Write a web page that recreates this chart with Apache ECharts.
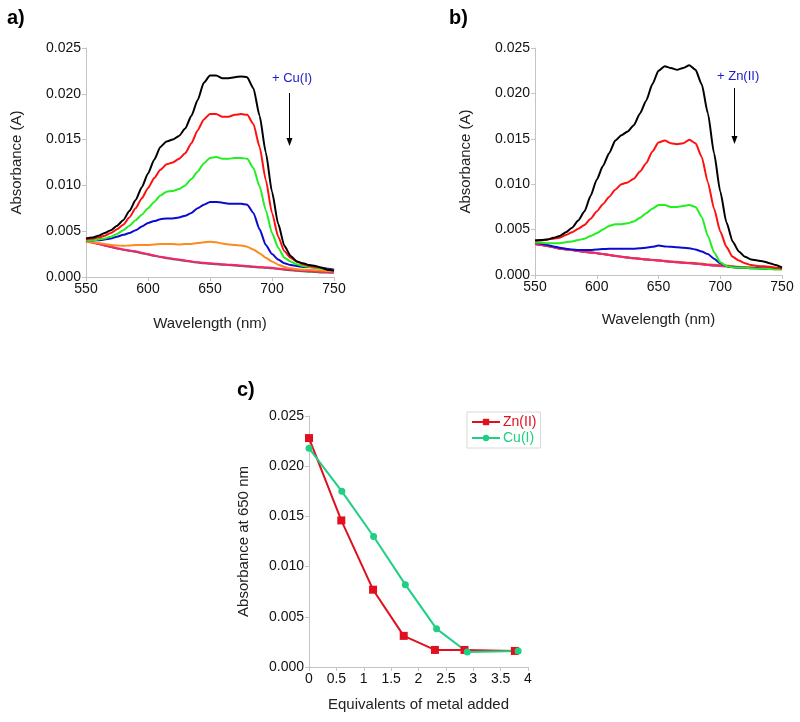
<!DOCTYPE html>
<html>
<head>
<meta charset="utf-8">
<script src="https://cdn.jsdelivr.net/npm/echarts@6/dist/echarts.min.js"></script>
<style>
html,body{margin:0;padding:0;background:#fff;}
#chart{width:800px;height:722px;}
</style>
</head>
<body>
<div id="chart"></div>
<script>
// ---------- DATA ----------
const wavelengths = [550,555,560,565,570,575,580,585,590,595,600,605,610,615,620,625,630,635,640,645,650,655,660,665,670,675,680,685,690,695,700,705,710,715,720,725,730,735,740,745,750];
const xTicksSpectra = [550,600,650,700,750];

// Panel a (+ Cu(I)) absorbance
const aBlack  = [0.0042,0.0043,0.0045,0.0048,0.0051,0.0056,0.0062,0.0072,0.0084,0.0098,0.0113,0.0128,0.0142,0.0148,0.0150,0.0154,0.0162,0.0176,0.0193,0.0212,0.0220,0.0220,0.0217,0.0217,0.0218,0.0219,0.0218,0.0206,0.0176,0.0136,0.0093,0.0058,0.0034,0.0023,0.0017,0.0015,0.0013,0.0012,0.0010,0.0008,0.0007];
const aRed    = [0.0041,0.0042,0.0043,0.0045,0.0048,0.0052,0.0057,0.0065,0.0075,0.0086,0.0097,0.0108,0.0117,0.0123,0.0125,0.0129,0.0135,0.0146,0.0160,0.0172,0.0178,0.0178,0.0175,0.0175,0.0177,0.0178,0.0177,0.0167,0.0142,0.0106,0.0070,0.0044,0.0028,0.0021,0.0017,0.0014,0.0012,0.0011,0.0010,0.0008,0.0007];
const aGreen  = [0.0040,0.0040,0.0041,0.0042,0.0044,0.0047,0.0051,0.0056,0.0062,0.0068,0.0075,0.0082,0.0089,0.0093,0.0094,0.0096,0.0100,0.0107,0.0115,0.0124,0.0130,0.0131,0.0129,0.0129,0.0130,0.0130,0.0129,0.0119,0.0099,0.0073,0.0048,0.0032,0.0021,0.0017,0.0014,0.0012,0.0011,0.0010,0.0009,0.0008,0.0007];
const aBlue   = [0.0040,0.0040,0.0040,0.0041,0.0042,0.0044,0.0046,0.0048,0.0051,0.0055,0.0059,0.0061,0.0063,0.0064,0.0064,0.0065,0.0067,0.0070,0.0075,0.0079,0.0082,0.0082,0.0081,0.0080,0.0080,0.0080,0.0079,0.0070,0.0052,0.0035,0.0025,0.0019,0.0015,0.0013,0.0012,0.0011,0.0011,0.0010,0.0010,0.0009,0.0008];
const aOrange = [0.0039,0.0038,0.0037,0.0036,0.0035,0.00345,0.0034,0.00345,0.0035,0.0035,0.0035,0.00355,0.0036,0.0036,0.0036,0.00355,0.0036,0.0036,0.0037,0.0038,0.00385,0.0038,0.00365,0.00355,0.0035,0.00345,0.0033,0.0030,0.0026,0.0021,0.0017,0.00135,0.0011,0.00095,0.00085,0.0008,0.0008,0.00075,0.0007,0.00065,0.0006];
const aDkGreen= [0.00395,0.0038,0.00362,0.00345,0.00328,0.00312,0.00298,0.00286,0.00275,0.0026,0.00245,0.00232,0.00218,0.00206,0.00195,0.00185,0.00176,0.00166,0.00157,0.0015,0.00145,0.0014,0.00135,0.0013,0.00125,0.0012,0.00115,0.0011,0.00105,0.0010,0.00095,0.00088,0.0008,0.00074,0.00068,0.00063,0.00058,0.00054,0.0005,0.00048,0.00046];
const aPink   = [0.0039,0.00375,0.0036,0.00345,0.0033,0.00315,0.0030,0.0029,0.0028,0.00265,0.0025,0.00235,0.0022,0.0021,0.0020,0.0019,0.0018,0.0017,0.0016,0.00155,0.0015,0.00145,0.0014,0.00135,0.0013,0.00125,0.0012,0.00115,0.0011,0.00105,0.0010,0.00092,0.00085,0.0008,0.00075,0.0007,0.00065,0.0006,0.00055,0.00052,0.0005];

// Panel b (+ Zn(II)) absorbance
const bBlack  = [0.0038,0.00385,0.0039,0.0041,0.0043,0.0047,0.0052,0.0060,0.0070,0.0087,0.0105,0.0120,0.0134,0.0148,0.0154,0.0158,0.0165,0.0178,0.0192,0.0210,0.0225,0.0230,0.0228,0.0226,0.0228,0.0231,0.0226,0.0210,0.0178,0.0134,0.0092,0.0058,0.0037,0.0026,0.0020,0.0017,0.0016,0.0015,0.0013,0.0011,0.0008];
const bRed    = [0.0038,0.0038,0.0039,0.0040,0.0041,0.0044,0.0047,0.0051,0.0055,0.0062,0.0070,0.0078,0.0086,0.0094,0.0100,0.0102,0.0106,0.0114,0.0123,0.0136,0.0146,0.0148,0.0145,0.0144,0.0145,0.0149,0.0145,0.0130,0.0102,0.0073,0.0048,0.0031,0.0020,0.0016,0.0013,0.0011,0.0010,0.00095,0.0009,0.0008,0.0007];
const bGreen  = [0.0036,0.00355,0.0035,0.0035,0.0035,0.0036,0.0037,0.00385,0.0040,0.0043,0.0046,0.0050,0.0054,0.0056,0.0056,0.0057,0.0059,0.0063,0.0068,0.0073,0.0077,0.0077,0.0075,0.0075,0.0076,0.0077,0.0075,0.0064,0.0043,0.0025,0.0014,0.0010,0.00085,0.0008,0.0008,0.00075,0.0007,0.0007,0.00065,0.0006,0.0006];
const bBlue   = [0.0036,0.00345,0.0033,0.00315,0.0030,0.0029,0.0028,0.00275,0.00275,0.00275,0.0028,0.00285,0.0029,0.0029,0.0029,0.0029,0.0029,0.00295,0.0030,0.0031,0.00325,0.00315,0.0031,0.00305,0.0030,0.00295,0.0028,0.0026,0.0023,0.0018,0.0013,0.0010,0.00085,0.0008,0.0008,0.00075,0.00075,0.0007,0.0007,0.0007,0.00065];
const bOrange = [0.00345,0.00332,0.0032,0.00306,0.00292,0.00283,0.00276,0.00266,0.00256,0.00249,0.00241,0.00231,0.00221,0.00211,0.00201,0.00194,0.00187,0.0018,0.00173,0.00168,0.00163,0.00156,0.0015,0.00145,0.0014,0.00136,0.00132,0.00126,0.00119,0.00114,0.00109,0.00104,0.00098,0.00092,0.00087,0.00084,0.0008,0.00076,0.00073,0.0007,0.00067];
const bDkGreen= [0.0034,0.0033,0.0032,0.00305,0.0029,0.00282,0.00275,0.00265,0.00255,0.00248,0.0024,0.0023,0.0022,0.0021,0.002,0.00192,0.00185,0.00178,0.0017,0.00165,0.0016,0.00152,0.00146,0.00141,0.00136,0.00131,0.00126,0.00119,0.00111,0.00106,0.00101,0.00096,0.00091,0.00086,0.00081,0.00079,0.00076,0.00073,0.00071,0.00069,0.00066];
const bPink   = [0.0034,0.0033,0.0032,0.00305,0.0029,0.00282,0.00275,0.00265,0.00255,0.00248,0.0024,0.0023,0.0022,0.0021,0.0020,0.00192,0.00185,0.00178,0.0017,0.00165,0.0016,0.00152,0.00145,0.0014,0.00135,0.0013,0.00125,0.00118,0.0011,0.00105,0.0010,0.00095,0.0009,0.00085,0.0008,0.00078,0.00075,0.00072,0.0007,0.00068,0.00065];

// Panel c: absorbance at 650 nm vs equivalents
const znEquiv = [0, 0.59, 1.17, 1.73, 2.30, 2.84, 3.76];
const znAbs   = [0.0228, 0.0146, 0.0077, 0.0031, 0.0017, 0.0017, 0.0016];
const cuEquiv = [0, 0.60, 1.18, 1.76, 2.33, 2.89, 3.82];
const cuAbs   = [0.0218, 0.0175, 0.0130, 0.0082, 0.0038, 0.0015, 0.0016];

const yTicks = [0, 0.005, 0.010, 0.015, 0.020, 0.025];
const cTicksX = [0, 0.5, 1, 1.5, 2, 2.5, 3, 3.5, 4];

// ---------- CHART ----------
const FONT = 'Liberation Sans, Arial, sans-serif';
const axisGray = '#c4c4c4';
function pairs(xs, ys){ return xs.map((x,i)=>[x, ys[i]]); }

function valueAxisX(gridIndex, min, max, interval, name, nameGap, fmt){
  return {
    type:'value', gridIndex, min, max, interval, name, nameLocation:'middle', nameGap,
    nameTextStyle:{fontFamily:FONT, fontSize:15, color:'#222'},
    axisLine:{show:true, onZero:false, lineStyle:{color:axisGray, width:1}},
    axisTick:{show:true, length:4, lineStyle:{color:axisGray}},
    axisLabel:{fontFamily:FONT, fontSize:14, color:'#111', margin:5, formatter:fmt},
    splitLine:{show:false}
  };
}
function valueAxisY(gridIndex, name, nameGap){
  return {
    type:'value', gridIndex, min:yTicks[0], max:yTicks[yTicks.length-1], interval:0.005, name, nameLocation:'middle', nameGap,
    nameTextStyle:{fontFamily:FONT, fontSize:15, color:'#222'},
    axisLine:{show:true, onZero:false, lineStyle:{color:axisGray, width:1}},
    axisTick:{show:true, length:4, lineStyle:{color:axisGray}},
    axisLabel:{fontFamily:FONT, fontSize:14, color:'#111', margin:5, formatter:v=>v.toFixed(3)},
    splitLine:{show:false}
  };
}
function spec(name, xi, data, color){
  return {name, type:'line', xAxisIndex:xi, yAxisIndex:xi, data:pairs(wavelengths, data),
    showSymbol:false, symbol:'none', smooth:0.2, smoothMonotone:'x', lineStyle:{color, width:2}, itemStyle:{color}, silent:true, animation:false};
}

const C = {black:'#000000', red:'#ff1010', green:'#22ee22', blue:'#0a0ad0', orange:'#ff8a1c', dkgreen:'#2f7f2f', pink:'#ff1f78'};

const chart = echarts.init(document.getElementById('chart'), null, {renderer:'canvas'});
chart.setOption({
  animation:false,
  backgroundColor:'#ffffff',
  grid:[
    {left:86, top:48, width:248, height:229},
    {left:535, top:48, width:247, height:227},
    {left:309, top:416, width:219, height:251}
  ],
  xAxis:[
    valueAxisX(0, 550, 750, 50, 'Wavelength (nm)', 39, v=>String(v)),
    valueAxisX(1, 550, 750, 50, 'Wavelength (nm)', 37, v=>String(v)),
    valueAxisX(2, 0, 4, 0.5, 'Equivalents of metal added', 30, v=>String(v))
  ],
  yAxis:[
    valueAxisY(0, 'Absorbance (A)', 62),
    valueAxisY(1, 'Absorbance (A)', 62),
    valueAxisY(2, 'Absorbance at 650 nm', 58)
  ],
  legend:{
    orient:'vertical', left:467, top:412, padding:[3,4,3,4],
    borderColor:'#d8d8d8', borderWidth:1, itemGap:2, itemWidth:28, itemHeight:8,
    textStyle:{fontFamily:FONT, fontSize:14, padding:[0,0,0,-2]},
    data:[
      {name:'Zn(II)', textStyle:{color:'#e0101e'}},
      {name:'Cu(I)', textStyle:{color:'#1fcf84'}}
    ]
  },
  series:[
    spec('a-dkgreen',0,aDkGreen,C.dkgreen),
    spec('a-pink',0,aPink,C.pink),
    spec('a-orange',0,aOrange,C.orange),
    spec('a-blue',0,aBlue,C.blue),
    spec('a-green',0,aGreen,C.green),
    spec('a-red',0,aRed,C.red),
    spec('a-black',0,aBlack,C.black),
    spec('b-orange',1,bOrange,C.orange),
    spec('b-dkgreen',1,bDkGreen,C.dkgreen),
    spec('b-pink',1,bPink,C.pink),
    spec('b-blue',1,bBlue,C.blue),
    spec('b-green',1,bGreen,C.green),
    spec('b-red',1,bRed,C.red),
    spec('b-black',1,bBlack,C.black),
    {name:'Zn(II)', type:'line', xAxisIndex:2, yAxisIndex:2, data:pairs(znEquiv, znAbs),
      symbol:'rect', symbolSize:8, lineStyle:{color:'#e0101e', width:2}, itemStyle:{color:'#e0101e'}},
    {name:'Cu(I)', type:'line', xAxisIndex:2, yAxisIndex:2, data:pairs(cuEquiv, cuAbs),
      symbol:'circle', symbolSize:7, lineStyle:{color:'#1fcf84', width:2}, itemStyle:{color:'#1fcf84'}}
  ],
  graphic:[
    {type:'text', left:7, top:8, style:{text:'a)', font:'bold 20px '+FONT, fill:'#000'}},
    {type:'text', left:449, top:8, style:{text:'b)', font:'bold 20px '+FONT, fill:'#000'}},
    {type:'text', left:237, top:380, style:{text:'c)', font:'bold 20px '+FONT, fill:'#000'}},
    {type:'text', left:272, top:72, style:{text:'+ Cu(I)', font:'13px '+FONT, fill:'#2020c8'}},
    {type:'line', shape:{x1:289.5, y1:93, x2:289.5, y2:140}, style:{stroke:'#000', lineWidth:1}},
    {type:'polygon', shape:{points:[[286.5,138],[292.5,138],[289.5,146]]}, style:{fill:'#000'}},
    {type:'text', left:717, top:70, style:{text:'+ Zn(II)', font:'13px '+FONT, fill:'#2020c8'}},
    {type:'line', shape:{x1:734.5, y1:88, x2:734.5, y2:138}, style:{stroke:'#000', lineWidth:1}},
    {type:'polygon', shape:{points:[[731.5,136],[737.5,136],[734.5,144]]}, style:{fill:'#000'}}
  ]
});
</script>
</body>
</html>
